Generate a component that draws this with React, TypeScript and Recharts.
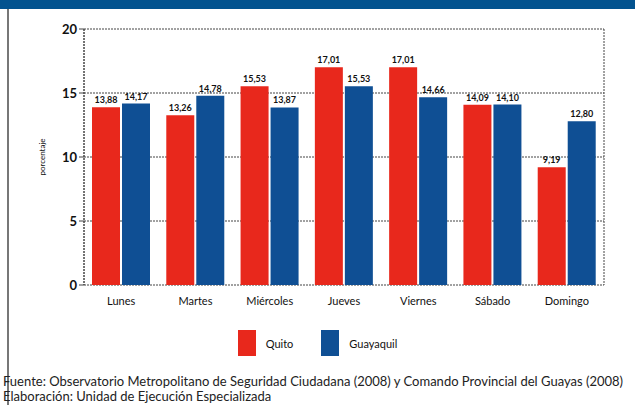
import React from "react";
import {
  BarChart,
  Bar,
  XAxis,
  YAxis,
  CartesianGrid,
  Legend,
  Label,
  LabelList,
} from "recharts";

const days = ["Lunes", "Martes", "Miércoles", "Jueves", "Viernes", "Sábado", "Domingo"];
const quito = [13.88, 13.26, 15.53, 17.01, 17.01, 14.09, 9.19];
const guayaquil = [14.17, 14.78, 13.87, 15.53, 14.66, 14.1, 12.8];
const yTicks = [0, 5, 10, 15, 20];

const RED = "#e8281c";
const BLUE = "#0f4f94";
const FONT = "Lato, 'Open Sans', sans-serif";

const data = days.map((day, i) => ({
  day,
  Quito: quito[i],
  Guayaquil: guayaquil[i],
}));

const fmt = (v: any) => Number(v).toFixed(2).replace(".", ",");

const LegendBox = () => (
  <div
    style={{
      display: "flex",
      justifyContent: "center",
      alignItems: "center",
      fontFamily: FONT,
      fontSize: 11,
      color: "#111",
    }}
  >
    <span style={{ display: "inline-block", width: 18, height: 26, background: RED }} />
    <span style={{ marginLeft: 10, marginRight: 28 }}>Quito</span>
    <span style={{ display: "inline-block", width: 18, height: 26, background: BLUE }} />
    <span style={{ marginLeft: 10 }}>Guayaquil</span>
  </div>
);

export default function App() {
  return (
    <div
      style={{
        position: "absolute",
        left: 0,
        top: 0,
        width: 635,
        height: 405,
        background: "#fff",
        overflow: "hidden",
        fontFamily: FONT,
      }}
    >
      <div style={{ position: "absolute", left: 0, top: 0, width: 635, height: 9, background: "#03538f" }} />
      <div style={{ position: "absolute", left: 7, top: 9, width: 2, height: 396, background: "#777" }} />
      <div style={{ position: "absolute", left: 0, top: 0 }}>
        <BarChart
          width={635}
          height={370}
          data={data}
          margin={{ top: 29, right: 31, left: 50, bottom: 39 }}
          barCategoryGap={8}
          barGap={2}
        >
          <CartesianGrid
            stroke="#444"
            strokeDasharray="2 1"
            verticalCoordinatesGenerator={({ offset }: any) => [offset.left, offset.left + offset.width]}
          />
          <XAxis
            dataKey="day"
            axisLine={false}
            tickLine={false}
            height={20}
            tick={{ fontSize: 11, fill: "#111", fontFamily: FONT }}
            tickMargin={6}
          />
          <YAxis
            width={34}
            domain={[0, 20]}
            ticks={yTicks}
            axisLine={{ stroke: "#444", strokeDasharray: "2 1" }}
            tickLine={{ stroke: "#444" }}
            tickSize={5}
            tick={{ fontSize: 13, fill: "#111", fontFamily: FONT, fontWeight: 700 }}
          >
            <Label
              value="porcentaje"
              angle={-90}
              position="insideLeft"
              offset={-8}
              style={{ fontSize: 8, fill: "#111", fontFamily: FONT, textAnchor: "middle" }}
            />
          </YAxis>
          <Legend
            verticalAlign="bottom"
            wrapperStyle={{ top: 330, left: 0, width: 635 }}
            content={<LegendBox />}
          />
          <Bar dataKey="Quito" fill={RED} isAnimationActive={false}>
            <LabelList
              dataKey="Quito"
              position="top"
              offset={4}
              formatter={fmt}
              style={{ fontSize: 9, fill: "#111", fontFamily: FONT, fontWeight: 700 }}
            />
          </Bar>
          <Bar dataKey="Guayaquil" fill={BLUE} isAnimationActive={false}>
            <LabelList
              dataKey="Guayaquil"
              position="top"
              offset={4}
              formatter={fmt}
              style={{ fontSize: 9, fill: "#111", fontFamily: FONT, fontWeight: 700 }}
            />
          </Bar>
        </BarChart>
      </div>
      <div
        style={{
          position: "absolute",
          left: 3,
          top: 374,
          fontSize: 13,
          lineHeight: "15px",
          color: "#222",
          fontFamily: FONT,
          whiteSpace: "nowrap",
        }}
      >
        <div>Fuente: Observatorio Metropolitano de Seguridad Ciudadana (2008) y Comando Provincial del Guayas (2008)</div>
        <div>Elaboración: Unidad de Ejecución Especializada</div>
      </div>
    </div>
  );
}
